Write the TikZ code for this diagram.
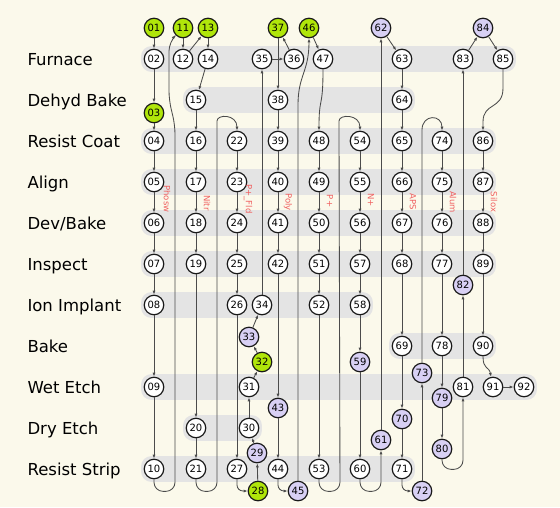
\documentclass[tikz,border=0pt]{standalone}
\usepackage{fontspec}
\setmainfont{DejaVu Sans}
\usepackage{tikz}
\usetikzlibrary{arrows.meta,positioning,calc,fit,backgrounds}
\usepackage{xcolor}
\definecolor{fabcream}{RGB}{251,249,235}
\definecolor{fabgrey}{RGB}{228,228,228}
\definecolor{fabgreen}{RGB}{176,230,10}
\definecolor{fabpurple}{RGB}{216,208,244}
\definecolor{fabline}{RGB}{75,75,75}
\definecolor{fabred}{RGB}{240,96,96}
\tikzset{
  fabnode/.style={circle, draw=black!90, line width=1.2pt, fill=white, minimum size=19.5pt, inner sep=0pt, font=\fontsize{10}{11}\selectfont},
  fabsrc/.style={fabnode, fill=fabgreen},
  fabalt/.style={fabnode, fill=fabpurple},
  fabarrow/.style={-{Latex[length=4pt,width=3pt]}, draw=fabline, line width=0.85pt},
  fabloop/.style={fabarrow, rounded corners=9pt},
  fabband/.style={fill=fabgrey, rounded corners=10pt, inner sep=2.5pt},
  fabstep/.style={anchor=base west, font=\fontsize{16.5}{18}\selectfont},
  fablabel/.style={font=\fontsize{8.5}{9}\selectfont, text=fabred, rotate=-90, inner sep=0pt},
}

\begin{document}
\begin{tikzpicture}[x=1pt, y=-1pt]
  \useasboundingbox (0,0) rectangle (560,507);
  \begin{scope}[on background layer]
    \fill[fabcream] (0,0) rectangle (560,507);
  \end{scope}

  % process steps
  \node[fabstep] (sFur) at (24,65) {Furnace};
  \node[fabstep] (sDeh) at (24,106) {Dehyd Bake};
  \node[fabstep] (sRco) at (24,147) {Resist Coat};
  \node[fabstep] (sAli) at (24,188) {Align};
  \node[fabstep] (sDev) at (24,229) {Dev/Bake};
  \node[fabstep] (sIns) at (24,270) {Inspect};
  \node[fabstep] (sIon) at (24,311) {Ion Implant};
  \node[fabstep] (sBak) at (24,352) {Bake};
  \node[fabstep] (sWet) at (24,393) {Wet Etch};
  \node[fabstep] (sDry) at (24,434) {Dry Etch};
  \node[fabstep] (sStr) at (24,475) {Resist Strip};

  % start points
  \node[fabsrc] (n01) at (154,28) {01};
  \node[fabsrc] (n11) at (183,28) {11};
  \node[fabsrc] (n13) at (208,28) {13};
  \node[fabsrc] (n37) at (278,28) {37};
  \node[fabsrc] (n46) at (309,28) {46};
  \node[fabalt] (n62) at (381,28) {62};
  \node[fabalt] (n84) at (483,28) {84};

  % Furnace
  \node[fabnode] (n02) at (154,59) {02};
  \node[fabnode] (n12) at (183,59) {12};
  \node[fabnode] (n14) at (208,59) {14};
  \node[fabnode] (n35) at (262,59) {35};
  \node[fabnode] (n36) at (294,59) {36};
  \node[fabnode] (n47) at (323,59) {47};
  \node[fabnode] (n63) at (402,59) {63};
  \node[fabnode] (n83) at (463,59) {83};
  \node[fabnode] (n85) at (503,59) {85};

  % Dehyd Bake
  \node[fabnode] (n15) at (196,100) {15};
  \node[fabnode] (n38) at (278,100) {38};
  \node[fabnode] (n64) at (402,100) {64};
  \node[fabsrc] (n03) at (154,113) {03};

  % Resist Coat
  \node[fabnode] (n04) at (154,141) {04};
  \node[fabnode] (n16) at (196,141) {16};
  \node[fabnode] (n22) at (237,141) {22};
  \node[fabnode] (n39) at (278,141) {39};
  \node[fabnode] (n48) at (319,141) {48};
  \node[fabnode] (n54) at (360,141) {54};
  \node[fabnode] (n65) at (402,141) {65};
  \node[fabnode] (n74) at (442,141) {74};
  \node[fabnode] (n86) at (483,141) {86};

  % Align
  \node[fabnode] (n05) at (154,182) {05};
  \node[fabnode] (n17) at (196,182) {17};
  \node[fabnode] (n23) at (237,182) {23};
  \node[fabnode] (n40) at (278,182) {40};
  \node[fabnode] (n49) at (319,182) {49};
  \node[fabnode] (n55) at (360,182) {55};
  \node[fabnode] (n66) at (402,182) {66};
  \node[fabnode] (n75) at (442,182) {75};
  \node[fabnode] (n87) at (483,182) {87};

  % Dev/Bake
  \node[fabnode] (n06) at (154,223) {06};
  \node[fabnode] (n18) at (196,223) {18};
  \node[fabnode] (n24) at (237,223) {24};
  \node[fabnode] (n41) at (278,223) {41};
  \node[fabnode] (n50) at (319,223) {50};
  \node[fabnode] (n56) at (360,223) {56};
  \node[fabnode] (n67) at (402,223) {67};
  \node[fabnode] (n76) at (442,223) {76};
  \node[fabnode] (n88) at (483,223) {88};

  % Inspect
  \node[fabnode] (n07) at (154,264) {07};
  \node[fabnode] (n19) at (196,264) {19};
  \node[fabnode] (n25) at (237,264) {25};
  \node[fabnode] (n42) at (278,264) {42};
  \node[fabnode] (n51) at (319,264) {51};
  \node[fabnode] (n57) at (360,264) {57};
  \node[fabnode] (n68) at (402,264) {68};
  \node[fabnode] (n77) at (442,264) {77};
  \node[fabnode] (n89) at (483,264) {89};
  \node[fabalt] (n82) at (463,285) {82};

  % Ion Implant
  \node[fabnode] (n08) at (154,305) {08};
  \node[fabnode] (n26) at (237,305) {26};
  \node[fabnode] (n34) at (262,305) {34};
  \node[fabnode] (n52) at (319,305) {52};
  \node[fabnode] (n58) at (360,305) {58};

  % Bake
  \node[fabalt] (n33) at (249,337) {33};
  \node[fabnode] (n69) at (402,346) {69};
  \node[fabnode] (n78) at (442,346) {78};
  \node[fabnode] (n90) at (483,346) {90};
  \node[fabsrc] (n32) at (262,362) {32};
  \node[fabalt] (n59) at (360,362) {59};
  \node[fabalt] (n73) at (422,373) {73};

  % Wet Etch
  \node[fabnode] (n09) at (154,387) {09};
  \node[fabnode] (n31) at (249,387) {31};
  \node[fabnode] (n81) at (463,387) {81};
  \node[fabnode] (n91) at (493,387) {91};
  \node[fabnode] (n92) at (524,387) {92};
  \node[fabalt] (n79) at (442,398) {79};
  \node[fabalt] (n43) at (278,408) {43};
  \node[fabalt] (n70) at (402,419) {70};

  % Dry Etch
  \node[fabnode] (n20) at (196,428) {20};
  \node[fabnode] (n30) at (249,428) {30};
  \node[fabalt] (n61) at (381,440) {61};
  \node[fabalt] (n80) at (442,449) {80};
  \node[fabalt] (n29) at (257,453) {29};

  % Resist Strip
  \node[fabnode] (n10) at (154,469) {10};
  \node[fabnode] (n21) at (196,469) {21};
  \node[fabnode] (n27) at (237,469) {27};
  \node[fabnode] (n44) at (278,469) {44};
  \node[fabnode] (n53) at (319,469) {53};
  \node[fabnode] (n60) at (360,469) {60};
  \node[fabnode] (n71) at (402,469) {71};
  \node[fabsrc] (n28) at (258,491) {28};
  \node[fabalt] (n45) at (298,491) {45};
  \node[fabalt] (n72) at (422,491) {72};

  % row bands
  \begin{scope}[on background layer]
    \node[fabband, fit=(n02)(n85)] (bFur) {};
    \node[fabband, fit=(n15)(n64)] (bDeh) {};
    \node[fabband, fit=(n04)(n86)] (bRco) {};
    \node[fabband, fit=(n05)(n87)] (bAli) {};
    \node[fabband, fit=(n06)(n88)] (bDev) {};
    \node[fabband, fit=(n07)(n89)] (bIns) {};
    \node[fabband, fit=(n08)(n58)] (bIon) {};
    \node[fabband, fit=(n69)(n90)] (bBak) {};
    \node[fabband, fit=(n09)(n92)] (bWet) {};
    \node[fabband, fit=(n20)(n30)] (bDry) {};
    \node[fabband, fit=(n10)(n71)] (bStr) {};
  \end{scope}

  % flows
  \foreach \a/\b in {01/02,02/03,03/04,04/05,05/06,06/07,07/08,08/09,09/10,
      11/12,12/13,13/14,14/15,15/16,16/17,17/18,18/19,19/20,20/21,
      22/23,23/24,24/25,25/26,26/27,
      28/29,29/30,30/31,31/32,32/33,33/34,34/35,35/36,36/37,37/38,
      38/39,39/40,40/41,41/42,42/43,43/44,46/47,
      48/49,49/50,50/51,51/52,52/53,54/55,55/56,56/57,57/58,58/59,59/60,
      61/62,62/63,63/64,64/65,65/66,66/67,67/68,68/69,69/70,70/71,72/73,
      74/75,75/76,76/77,77/78,78/79,79/80,81/82,82/83,83/84,84/85,
      86/87,87/88,88/89,89/90,91/92}
    \draw[fabarrow] (n\a) -- (n\b);

  \draw[fabarrow, rounded corners=6pt] (n27) |- (n28);
  \draw[fabarrow, rounded corners=6pt] (n44) |- (n45);
  \draw[fabarrow, rounded corners=6pt] (n71) |- (n72);

  \draw[fabloop] (n10.south) -- ++(0,12) -- ++(21,0) -- (175,125) -- (169,100) -- (169,42) -- (n11);
  \draw[fabloop] (n21.south) -- ++(0,12) -- ++(21,0) -- (217,130) .. controls (217,114) and (237,114) .. (n22.north);
  \draw[fabloop] (n53.south) -- ++(0,12) -- ++(21,0) -- (339,130) .. controls (339,114) and (360,114) .. (n54.north);
  \draw[fabloop] (n60.south) -- ++(0,12) -| (n61.south);
  \draw[fabloop] (n80.south) -- ++(0,10) -| (n81.south);
  \draw[fabarrow] (n73.north) -- (422,130) .. controls (422,114) and (442,114) .. (n74.north);
  \draw[fabarrow] (n45.north) -- (298,105) .. controls (298,75) and (309,72) .. (n46.south);
  \draw[fabarrow] (n47.south) .. controls (323,110) and (319,95) .. (n48.north);
  \draw[fabarrow] (n85.south) -- (503,88) .. controls (503,110) and (483,102) .. (483,122) -- (n86.north);
  \draw[fabarrow] (n90.south) .. controls (483,370) and (489,366) .. (n91);

  % mask names
  \node[fablabel] (mPhosw) at (167,199) {Phosw};
  \node[fablabel] (mNitr) at (207,203) {Nitr};
  \node[fablabel] (mPfld) at (248,199) {P+\_Fld};
  \node[fablabel] (mPoly) at (288,202) {Poly};
  \node[fablabel] (mPplus) at (330,201) {P+};
  \node[fablabel] (mNplus) at (371,200) {N+};
  \node[fablabel] (mAPS) at (413,202) {APS};
  \node[fablabel] (mAlum) at (453,202) {Alum};
  \node[fablabel] (mSilox) at (494,202) {Silox};
\end{tikzpicture}
\end{document}
